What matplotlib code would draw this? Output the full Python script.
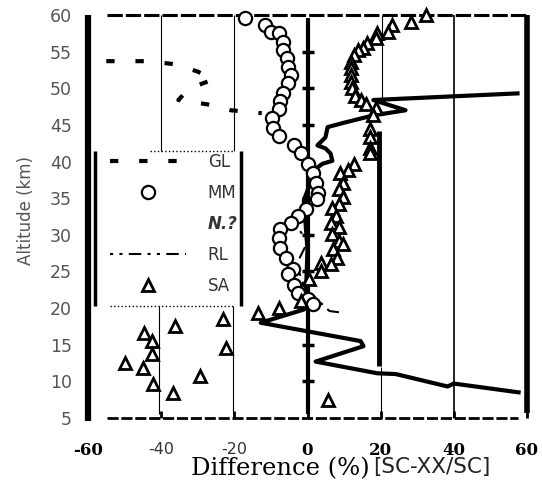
import matplotlib
matplotlib.use('Agg')
import matplotlib.pyplot as plt
from matplotlib.lines import Line2D

# MM profile (open circles)
mm_alt = [59.6, 58.6, 57.7, 57.5, 56.3, 55.2, 54.1, 52.9, 51.8, 50.7, 49.4, 48.3,
          47.2, 45.9, 44.6, 43.5, 42.2, 41.1, 39.7, 38.5, 37.1, 35.7, 34.9, 33.5,
          32.6, 31.6, 30.8, 29.5, 28.2, 26.8, 25.4, 24.6, 23.2, 22.0, 21.3, 20.6]
mm_diff = [-17.0, -11.5, -10.1, -7.9, -6.8, -6.6, -5.5, -5.2, -4.6, -5.2, -6.6, -7.4,
           -7.9, -9.6, -9.3, -7.9, -3.8, -1.9, 0.0, 1.6, 2.2, 3.0, 2.7, -0.5,
           -2.7, -4.6, -7.4, -7.9, -7.4, -6.0, -4.1, -5.2, -3.8, -2.5, 0.0, 1.4]

# SA profile (open triangles)
sa_alt = [60.0, 59.0, 58.6, 57.7, 57.5, 56.8, 56.2, 55.5, 55.2, 54.5, 53.6, 52.7,
          51.8, 50.8, 50.0, 49.0, 48.4, 47.9, 47.3, 46.3, 44.5, 43.3, 41.9, 41.1,
          39.7, 38.8, 38.4, 37.1, 36.3, 35.1, 34.2, 33.6, 32.6, 31.6, 31.0, 30.1,
          29.2, 28.8, 28.1, 26.8, 26.2, 26.0, 25.1, 24.0, 21.0, 20.0, 19.3, 7.5,
          18.5, 17.5, 16.6, 15.5, 14.5, 13.7, 12.5, 11.8, 10.7, 9.6, 8.4]
sa_diff = [32.3, 28.2, 23.2, 22.1, 19.1, 18.6, 16.4, 15.3, 13.9, 12.6, 11.8, 11.8,
           11.8, 11.8, 12.3, 13.1, 14.5, 15.9, 18.6, 18.0, 17.2, 17.2, 17.2, 17.2,
           12.6, 11.2, 9.0, 9.6, 8.5, 9.6, 8.5, 6.8, 7.7, 6.3, 8.5, 6.8,
           8.5, 9.8, 7.1, 8.2, 3.6, 6.3, 3.6, 0.3, -1.9, -7.9, -13.4, 5.5,
           -23.0, -36.1, -44.8, -42.4, -22.4, -42.4, -49.8, -45.1, -29.3, -42.1, -36.9]

# GL profile (thick dashes)
gl_alt = [53.7, 53.7, 53.3, 52.3, 51.2, 50.0, 48.4, 47.8, 47.0, 46.6]
gl_diff = [-55.0, -43.7, -36.6, -30.1, -25.7, -32.3, -35.3, -27.3, -21.0, -12.5]

# N.? profile (solid line)
nq_alt = [49.3, 48.4, 47.0, 46.3, 45.3, 44.7, 43.3, 42.2, 41.8, 41.1, 40.1, 39.7,
          39.0, 34.7, 28.0, 21.0, 19.8, 18.0, 15.5, 14.8, 12.7, 11.1, 11.0, 9.3,
          9.7, 8.5]
nq_diff = [57.4, 18.0, 26.8, 18.0, 10.0, 5.5, 4.9, 2.7, 4.9, 6.3, 6.8, 4.1,
           2.2, -1.0, 0.0, -0.5, -1.0, -12.8, 14.5, 15.3, 2.2, 19.1, 24.1, 38.3,
           40.0, 57.7]

# RL profile (dash-dot)
rl_alt = [30.5, 29.0, 26.0, 23.0, 21.0, 19.6, 19.4]
rl_diff = [-2.0, 0.0, -3.0, -1.0, 3.0, 6.0, 9.0]

legend_labels = ['GL', 'MM', 'N.?', 'RL', 'SA']
x_ticks = [-60, -40, -20, 0, 20, 40, 60]
x_tick_labels = ['-60', '-40', '-20', '0', '20', '40', '60']
y_ticks = list(range(5, 65, 5))
zero_line_ticks = list(range(10, 60, 5))


def draw_frame(ax):
    # heavy outer frame and inner guide lines of the scanned figure
    ax.vlines(-60, 4.6, 60, color='black', lw=4.5, clip_on=False)
    ax.vlines(60, 5.7, 60, color='black', lw=4, clip_on=False)
    ax.hlines(60, -54.7, 60, color='black', lw=2.2, linestyles=(0, (5, 1)), clip_on=False)
    ax.hlines(5, -54.7, 57.5, color='black', lw=2, linestyles=(0, (4, 1)), clip_on=False)
    ax.vlines(0, 5.5, 59.6, color='black', lw=3, zorder=2)
    ax.plot([0] * len(zero_line_ticks), zero_line_ticks, ls='none', marker='_',
            ms=9, mew=2.5, color='black', zorder=2)
    ax.vlines(20.5, 48.4, 60, color='black', lw=0.8)
    ax.vlines(19.5, 12.1, 44.2, color='black', lw=3.5)
    ax.vlines(20, 5, 12, color='black', lw=0.8)
    ax.vlines(40, 5, 60, color='black', lw=1.2)
    ax.vlines([-40, -20], 41.5, 60, color='black', lw=0.8)
    ax.hlines(41.5, -43, -20, color='black', lw=1, linestyles=':')
    ax.vlines([-40.5, -20.5], 5.6, 20.3, color='black', lw=0.8)
    ax.hlines(20.3, -54, -20, color='black', lw=1, linestyles=':')
    ax.vlines([-58, -18.3], 20.3, 41.5, color='black', lw=2.5)


def plot_profiles():
    fig = plt.figure(figsize=(5.42, 4.84), dpi=100)
    ax = fig.add_axes([88 / 542, 1 - 418 / 484, (527 - 88) / 542, (418 - 15) / 484])
    ax.set_xlim(-60, 60)
    ax.set_ylim(5, 60)
    for s in ax.spines.values():
        s.set_visible(False)

    draw_frame(ax)

    gl, = ax.plot(gl_diff, gl_alt, color='black', lw=3, ls=(0, (2, 5)), zorder=3)
    nq, = ax.plot(nq_diff, nq_alt, color='black', lw=3, zorder=3)
    rl, = ax.plot(rl_diff, rl_alt, color='black', lw=1.5, ls=(0, (1.5, 3, 1.5, 3, 6, 3)), zorder=3)
    mm, = ax.plot(mm_diff, mm_alt, ls='none', marker='o', ms=9.5, mfc='white',
                  mec='black', mew=1.6, zorder=4, clip_on=False)
    sa, = ax.plot(sa_diff, sa_alt, ls='none', marker='^', ms=8, mfc='white',
                  mec='black', mew=2, zorder=5, clip_on=False)

    handles = [gl, mm, Line2D([], [], color='none'), rl, sa]
    leg = ax.legend(handles, legend_labels, loc='center', bbox_to_anchor=(0.195, 0.481),
                    frameon=False, handlelength=4.6, handletextpad=1.3, labelspacing=0.78,
                    fontsize=12, numpoints=1)
    for t in leg.get_texts():
        t.set_color('#333333')
    leg.get_texts()[2].set_fontstyle('italic')
    leg.get_texts()[2].set_fontweight('bold')

    ax.set_yticks(y_ticks)
    ax.set_yticklabels([str(v) for v in y_ticks])
    ax.tick_params(axis='y', length=0, pad=11.5, labelsize=12.5, labelcolor='#555555')
    ax.set_xticks(x_ticks)
    ax.set_xticklabels(x_tick_labels)
    ax.tick_params(axis='x', direction='in', length=5, width=2, pad=17)
    for lab, txt in zip(ax.get_xticklabels(), x_tick_labels):
        if txt in ('-40', '-20'):
            lab.set_fontfamily('DejaVu Sans')
            lab.set_fontsize(11.5)
            lab.set_color('#333333')
        else:
            lab.set_fontfamily('DejaVu Serif')
            lab.set_fontweight('bold')
            lab.set_fontsize(12)

    fig.text(370 / 542, 1 - 469 / 484, 'Difference (%)', ha='right', va='center',
             family='DejaVu Serif', fontsize=17.5)
    fig.text(373 / 542, 1 - 467 / 484, '[SC-XX/SC]', ha='left', va='center',
             family='DejaVu Sans', fontsize=15.5, color='#222222')
    fig.text(26 / 542, 1 - 211 / 484, 'Altitude (km)', rotation=90, ha='center',
             va='center', fontsize=12, color='#555555')

    fig.savefig('out.png', dpi=100)


plot_profiles()
